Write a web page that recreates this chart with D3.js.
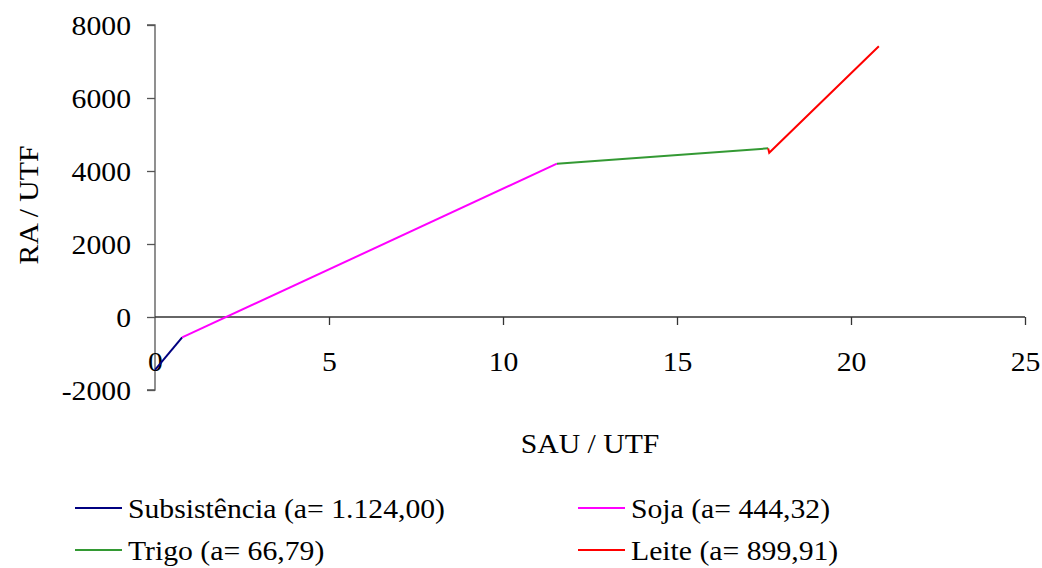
<!DOCTYPE html>
<html><head><meta charset="utf-8">
<script src="https://cdn.jsdelivr.net/npm/d3@7"></script>
<style>body{margin:0;background:#fff}</style>
</head><body><svg id="c" width="1042" height="568"></svg>
<script>
const xTicks=[0,5,10,15,20,25];
const yTicks=[-2000,0,2000,4000,6000,8000];
const subsistencia=[[0,-1450],[0.78,-560]];
const soja=[[0.78,-560],[11.55,4200]];
const trigo=[[11.55,4200],[17.62,4620]];
const leite=[[17.62,4620],[17.65,4500],[20.8,7420]];
const seriesNames=["Subsistência (a= 1.124,00)","Soja (a= 444,32)","Trigo (a= 66,79)","Leite (a= 899,91)"];
const seriesColors=["#000080","#FF00FF","#339933","#FF0000"];
const seriesData=[subsistencia,soja,trigo,leite];

const FONT="'Liberation Serif','Times New Roman',Times,serif";
const svg=d3.select("#c");
const fs=27;
const x=d3.scaleLinear().domain([0,25]).range([155,1025]);
const y=d3.scaleLinear().domain([-2000,8000]).range([390,25]);

function styleText(sel){
  sel.attr("font-family",null).style("font-family",FONT).style("font-size",fs+"px").attr("fill","#000");
  sel.each(function(){
    const w=this.getComputedTextLength();
    d3.select(this).attr("textLength",w*1.1).attr("lengthAdjust","spacingAndGlyphs");
  });
}

// y axis
const ya=svg.append("g").attr("transform","translate(155,0)")
 .call(d3.axisLeft(y).tickValues(yTicks).tickSize(8).tickPadding(16).tickFormat(d=>d<0?"-"+Math.abs(d):d));
ya.attr("font-family",null);
ya.selectAll("text").attr("dy","0.36em").call(styleText);
ya.selectAll("path,line").attr("stroke","#555").attr("stroke-width",1.3);
ya.select(".domain").attr("d","M-8,"+y(8000)+"H0V"+y(-2000)+"H-8");

// x axis at y=0
const xa=svg.append("g").attr("transform","translate(0,"+y(0)+")")
 .call(d3.axisBottom(x).tickValues(xTicks).tickSize(8).tickPadding(36));
xa.attr("font-family",null);
xa.selectAll("text").attr("dy","0.36em").call(styleText);
xa.selectAll("path,line").attr("stroke","#333").attr("stroke-width",1.3);
xa.select(".domain").attr("d","M"+x(0)+",0H"+x(25));
xa.selectAll(".tick line").filter(d=>d===0).remove();

// lines
const line=d3.line().x(d=>x(d[0])).y(d=>y(d[1]));
seriesData.forEach((s,i)=>{
  svg.append("path").attr("d",line(s)).attr("fill","none").attr("stroke",seriesColors[i]).attr("stroke-width",2);
});

// axis titles
svg.append("text").attr("x",590).attr("y",443).attr("text-anchor","middle").attr("dy","0.36em").text("SAU / UTF").call(styleText);
svg.append("text").attr("transform","translate(28,205) rotate(-90)").attr("text-anchor","middle").attr("dy","0.36em").text("RA / UTF").call(styleText);

// legend
const lx=[75,578], ly=[508,550];
seriesNames.forEach((n,i)=>{
  const cx=lx[i%2], cy=ly[Math.floor(i/2)];
  svg.append("line").attr("x1",cx).attr("x2",cx+47).attr("y1",cy).attr("y2",cy).attr("stroke",seriesColors[i]).attr("stroke-width",2);
  svg.append("text").attr("x",cx+53).attr("y",cy).attr("dy","0.36em").text(n).call(styleText);
});
</script></body></html>
